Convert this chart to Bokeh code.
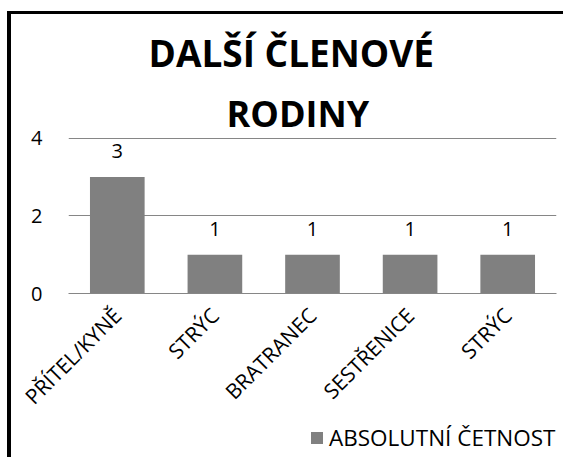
from math import pi
from bokeh.plotting import figure
from bokeh.layouts import column
from bokeh.models import ColumnDataSource, FixedTicker, Title, Legend, LegendItem
from bokeh.core.properties import value
from bokeh.embed import file_html
from bokeh.resources import INLINE

categories = ["PŘÍTEL/KYNĚ", "STRÝC", "BRATRANEC", "SESTŘENICE", "STRÝC"]
values = [3, 1, 1, 1, 1]
series_name = "ABSOLUTNÍ ČETNOST"
title_lines = ["DALŠÍ ČLENOVÉ", "RODINY"]
y_ticks = [0, 2, 4]

FONT = "Open Sans"
BAR = "#808080"
GRID = "#868686"

xs = list(range(len(categories)))
src = ColumnDataSource(dict(x=xs, top=values, lab=[str(v) for v in values]))

# ---------------- main chart ----------------
p = figure(width=552, height=409, output_backend="svg", toolbar_location=None,
           x_range=(-0.5, len(categories) - 0.5), y_range=(0, 4.02),
           min_border_left=57, min_border_right=7, min_border_top=123,
           min_border_bottom=130)
p.outline_line_color = None
p.background_fill_color = "white"
p.border_fill_color = "white"

r = p.vbar(x="x", top="top", width=0.56, source=src, fill_color=BAR, line_color=None)
p.text(x="x", y="top", text="lab", source=src, text_align="center",
       text_baseline="bottom", y_offset=-19, text_font_size="20px",
       text_font=value(FONT), text_color="black")

t2 = Title(text=title_lines[1], align="left", offset=158, text_font=FONT,
           text_font_size="36px", text_font_style="bold", text_color="black", standoff=0)
t1 = Title(text=title_lines[0], align="left", offset=80, text_font=FONT,
           text_font_size="37px", text_font_style="bold", text_color="black", standoff=17)
p.add_layout(t2, "above")
p.add_layout(t1, "above")

p.yaxis.ticker = FixedTicker(ticks=y_ticks)
p.yaxis.axis_line_color = None
p.yaxis.major_tick_line_color = None
p.yaxis.minor_tick_line_color = None
p.yaxis.major_label_standoff = 20
p.yaxis.major_label_text_font = FONT
p.yaxis.major_label_text_font_size = "20px"
p.yaxis.major_label_text_color = "black"

p.xaxis.ticker = FixedTicker(ticks=xs)
p.xaxis.major_label_overrides = {i: c for i, c in enumerate(categories)}
p.xaxis.major_label_orientation = pi / 4
p.xaxis.axis_line_color = GRID
p.xaxis.major_tick_line_color = None
p.xaxis.minor_tick_line_color = None
p.xaxis.major_label_standoff = 12
p.xaxis.major_label_text_font = FONT
p.xaxis.major_label_text_font_size = "21px"
p.xaxis.major_label_text_color = "black"

p.xgrid.grid_line_color = None
p.ygrid.ticker = FixedTicker(ticks=y_ticks)
p.ygrid.grid_line_color = GRID

# ---------------- legend strip ----------------
lg = figure(width=552, height=34, output_backend="svg", toolbar_location=None,
            x_range=(0, 1), y_range=(0, 1), x_axis_type=None, y_axis_type=None,
            min_border=0)
lg.outline_line_color = None
lg.xgrid.grid_line_color = None
lg.ygrid.grid_line_color = None
# same bars, drawn off-range: only used as the legend's glyph
lr = lg.vbar(x="x", top="top", width=0.56, source=src, fill_color=BAR, line_color=None,
             bottom=-10)
lr.glyph.top = -20
legend = Legend(items=[LegendItem(label=series_name, renderers=[lr])],
                location=(241, 4), padding=0, margin=0, border_line_color=None,
                background_fill_alpha=0, glyph_width=15, glyph_height=15,
                label_standoff=5, label_text_font=FONT, label_text_font_size="22.5px",
                label_text_color="black")
lg.add_layout(legend, "center")

layout = column(p, lg, spacing=0)
layout.styles = {"margin-left": "7px", "margin-top": "11px",
                 "border-top": "3px solid black", "border-left": "4px solid black"}

open("out.html", "w").write(file_html(layout, INLINE))
